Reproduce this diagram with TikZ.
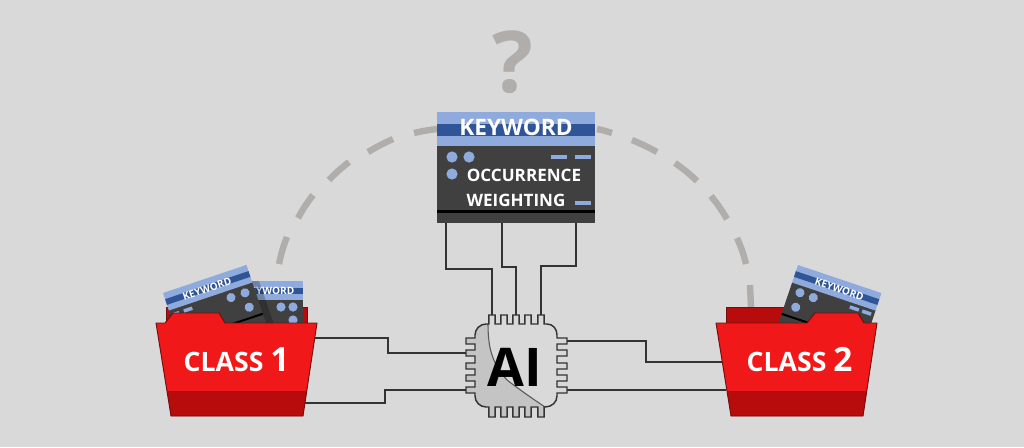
\documentclass[tikz,border=0pt]{standalone}
\usepackage{fontspec}
\setmainfont{Open Sans}
\definecolor{bgc}{HTML}{D9D9D9}
\definecolor{dashc}{HTML}{B0ADAB}
\definecolor{bandc}{HTML}{8FAADC}
\definecolor{stripec}{HTML}{2F5597}
\definecolor{bodyc}{HTML}{404040}
\definecolor{redc}{HTML}{F01818}
\definecolor{darkredc}{HTML}{B80C0C}
\definecolor{edgec}{HTML}{6E1010}
\definecolor{wedgec}{HTML}{C4C4C4}
\definecolor{wirec}{HTML}{333333}
\tikzset{
  arcdash/.style={draw=dashc,line width=4.8pt},
  wire/.style={draw=wirec,line width=1.25pt},
  dotc/.style={fill=bandc},
  dashmark/.style={fill=bandc},
  foldfront/.style={fill=redc},
  foldband/.style={fill=darkredc},
  foldedge/.style={draw=edgec,line width=.7pt,line join=round},
  foldback/.style={fill=darkredc,draw=edgec,line width=.5pt},
  lbl/.style={text=white,font=\bfseries,inner sep=0pt},
  sklbl/.style={text=white,font=\bfseries\fontsize{7.6}{8}\selectfont,inner sep=0pt,transform shape},
}
\newcommand{\smcard}[4]{%
  \begin{scope}[shift={(#1,#2)},rotate=#3]
    \fill[fill=bodyc] (0,18) rectangle (88,62);
    \fill[fill=bandc] (0,0) rectangle (88,18.5);
    \fill[fill=stripec] (0,6.5) rectangle (88,12.5);
    \fill[fill=black] (0,50.5) rectangle (88,52.5);
    #4
  \end{scope}}
\newcommand{\chipoutline}{(486,324)
  \foreach \c in {492,504,516,528,541}{ -- (\c-3.2,324) -- (\c-3.2,315) -- (\c+3.2,315) -- (\c+3.2,324)}
  -- (547,324) .. controls (553,324) and (557,329) .. (557,335)
  \foreach \c in {341,353,366,378,390}{ -- (557,\c-3) -- (567,\c-3) -- (567,\c+3) -- (557,\c+3)}
  -- (557,396) .. controls (557,402) and (552,407) .. (545,407)
  \foreach \c in {541,528,516,504,492}{ -- (\c+3.2,407) -- (\c+3.2,417) -- (\c-3.2,417) -- (\c-3.2,407)}
  -- (486,407) .. controls (480,407) and (475,402) .. (475,396)
  \foreach \c in {390,378,366,353,341}{ -- (475,\c+3) -- (466,\c+3) -- (466,\c-3) -- (475,\c-3)}
  -- (475,335) .. controls (475,329) and (480,324) .. (486,324) -- cycle}
\begin{document}
\begin{tikzpicture}[x=0.75pt,y=-0.75pt]
\useasboundingbox (0,0) rectangle (1024,447);
\fill[fill=bgc] (0,0) rectangle (1024,447);

% dashed arc
\draw[arcdash] (279,264) to[bend left=5] (287,237);
\draw[arcdash] (298,218) to[bend left=4] (313,195);
\draw[arcdash] (329,180) to[bend left=4] (349,162);
\draw[arcdash] (368,152) to[bend left=3] (393,139);
\draw[arcdash] (414,133) to[bend left=3] (437,129);
\draw[arcdash] (597,129) to[bend left=3] (612,133);
\draw[arcdash] (632,140) to[bend left=3] (657,152);
\draw[arcdash] (675,163) to[bend left=4] (697,181);
\draw[arcdash] (711,196) to[bend left=4] (727,219);
\draw[arcdash] (737,238) to[bend left=5] (746,264);
\draw[arcdash] (750,285) -- (751,307);

\node[text=dashc,font=\bfseries\fontsize{64}{64}\selectfont,inner sep=0pt] (qmark) at (512.5,62) {?};

% wire ports
\coordinate (c1) at (446,222); \coordinate (c2) at (502,222); \coordinate (c3) at (576,222);
\coordinate (t1) at (492,315); \coordinate (t2) at (516,315); \coordinate (t3) at (541,315);
\coordinate (l1) at (466,353); \coordinate (l2) at (466,390);
\coordinate (r1) at (567,341); \coordinate (r2) at (567,390);
\coordinate (fa) at (314,338); \coordinate (fb) at (304,403);
\coordinate (ga) at (722,362); \coordinate (gb) at (726,390);

\draw[wire] (c1) |- (491,269) -| (t1);
\draw[wire] (c2) |- (516,267) -- (t2);
\draw[wire] (c3) |- (541,266) -- (t3);
\draw[wire] (fa) -| (388,353) -- (l1);
\draw[wire] (fb) -| (385,390) -- (l2);
\draw[wire] (r1) -| (646,362) -- (ga);
\draw[wire] (r2) -- (gb);

% main card
\fill[fill=bodyc] (437,145) rectangle (595,223);
\fill[fill=bandc] (437,112) rectangle (595,146);
\fill[fill=stripec] (437,124) rectangle (595,135.5);
\fill[fill=black] (437,209.5) rectangle (595,212.5);
\fill[dotc] (452,157) circle (5.6);
\fill[dotc] (469,157) circle (5.6);
\fill[dotc] (452,174) circle (5.6);
\fill[dashmark] (551,154.5) rectangle (567,158.5);
\fill[dashmark] (575,154.5) rectangle (591,158.5);
\fill[dashmark] (575,200.5) rectangle (591,204.5);
\node[lbl,font=\bfseries\fontsize{17}{17}\selectfont] (kw) at (516,127) {KEYWORD};
\node[lbl,font=\bfseries\fontsize{12.8}{13}\selectfont] (occ) at (524,175) {OCCURRENCE};
\node[lbl,font=\bfseries\fontsize{12.8}{13}\selectfont] (wgt) at (516,200) {WEIGHTING};

% chip
\fill[fill=bgc] \chipoutline;
\begin{scope}
  \clip \chipoutline;
  \fill[fill=wedgec] (488,324) .. controls (488,350) and (493,364) .. (507,380)
    .. controls (520,390) and (533,399) .. (545,407) -- (545,425) -- (455,425) -- (455,324) -- cycle;
\end{scope}
\draw[draw=wedgec!45!black,line width=.8pt] (488,324) .. controls (488,350) and (493,364) .. (507,380)
    .. controls (520,390) and (533,399) .. (545,407);
\draw[draw=wirec,line width=1.1pt] \chipoutline;
\node[text=black,font=\bfseries\fontsize{40}{40}\selectfont,inner sep=0pt] (ai) at (515,367) {AI};

% folder 1
\fill[foldback] (166,307) rectangle (307,330);
\smcard{215}{281}{0}{
  \node[sklbl] (kb) at (54,10) {KEYWORD};
  \fill[dotc] (66,26) circle (4.6);
  \fill[dotc] (78,26) circle (4.6);
  \fill[dotc] (78,39) circle (4.6);
}
\fill[fill=black,fill opacity=.22] (252,281) -- (259,281) -- (276,330) -- (264,330) -- cycle;
\smcard{163}{293}{18.6}{
  \node[sklbl] (ka) at (43,10) {KEYWORD};
  \fill[dotc] (63,26) circle (4.6);
  \fill[dotc] (77.8,26) circle (4.6);
  \fill[dotc] (77.2,41) circle (4.6);
  \fill[dashmark] (14,22) rectangle (23,25.5);
  \fill[dashmark] (2,22) rectangle (9,25.5);
}
\fill[foldfront] (156,323) -- (165,323) -- (173,313) -- (219,313) -- (225,323) -- (317,323) -- (303,416) -- (171,416) -- cycle;
\fill[foldband] (167.5,391) -- (306.8,391) -- (303,416) -- (171,416) -- cycle;
\draw[foldedge] (156,323) -- (165,323) -- (173,313) -- (219,313) -- (225,323) -- (317,323) -- (303,416) -- (171,416) -- cycle;
\node[lbl,font=\bfseries\fontsize{20}{20}\selectfont,anchor=base] (cl1) at (236.5,371) {CLASS {\fontsize{25}{25}\selectfont 1}};

% folder 2
\fill[foldback] (726,307) rectangle (800,330);
\smcard{798}{265}{-18.6}{
  \node[sklbl] (kc) at (47,10) {KEYWORD};
  \fill[dotc] (10.7,25.6) circle (4.6);
  \fill[dotc] (24.9,26) circle (4.6);
  \fill[dotc] (11.3,40.8) circle (4.6);
  \fill[dashmark] (62.5,21.5) rectangle (72,25);
  \fill[dashmark] (75.5,21.5) rectangle (85,25);
}
\fill[foldfront] (716,323) -- (807,323) -- (815,313) -- (858,313) -- (864,323) -- (877,323) -- (863,416) -- (731,416) -- cycle;
\fill[foldband] (727.5,391) -- (866.8,391) -- (863,416) -- (731,416) -- cycle;
\draw[foldedge] (716,323) -- (807,323) -- (815,313) -- (858,313) -- (864,323) -- (877,323) -- (863,416) -- (731,416) -- cycle;
\node[lbl,font=\bfseries\fontsize{20}{20}\selectfont,anchor=base] (cl2) at (799.5,371) {CLASS {\fontsize{25}{25}\selectfont 2}};
\end{tikzpicture}
\end{document}
